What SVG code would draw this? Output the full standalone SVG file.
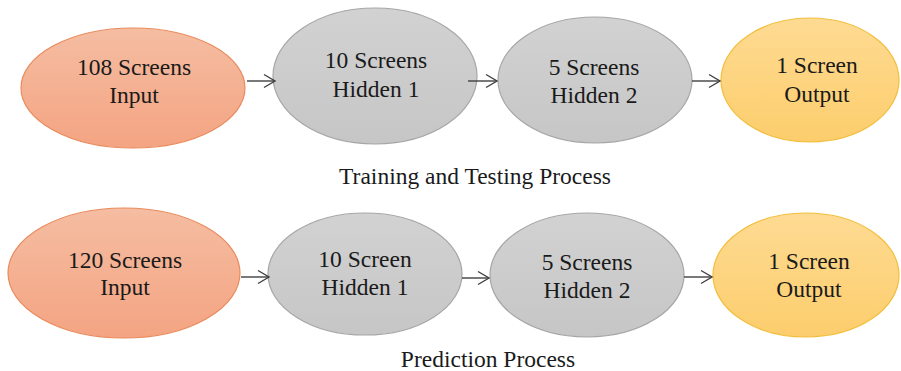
<svg xmlns="http://www.w3.org/2000/svg" width="901" height="371" viewBox="0 0 901 371">
<defs>
<linearGradient id="gIn" x1="0" y1="0" x2="0" y2="1"><stop offset="0" stop-color="#F5BDA2"/><stop offset="1" stop-color="#F4A482"/></linearGradient>
<linearGradient id="gHid" x1="0" y1="0" x2="0" y2="1"><stop offset="0" stop-color="#D2D2D2"/><stop offset="1" stop-color="#C6C6C6"/></linearGradient>
<linearGradient id="gOut" x1="0" y1="0" x2="0" y2="1"><stop offset="0" stop-color="#FEDB93"/><stop offset="1" stop-color="#FCCD6C"/></linearGradient>
<marker id="arr" markerWidth="16" markerHeight="16" refX="12" refY="8" orient="auto" markerUnits="userSpaceOnUse">
<path d="M1,1.5 L12,8 L1,14.5" fill="none" stroke="#404040" stroke-width="1.4"/>
</marker>
</defs>
<style>
.in{fill:url(#gIn);stroke:#E98B5C;stroke-width:1.2}
.hid{fill:url(#gHid);stroke:#A6A6A6;stroke-width:1.2}
.out{fill:url(#gOut);stroke:#F2BE3C;stroke-width:1.2}
text{font-family:"Liberation Serif","Times New Roman",serif;font-size:23.5px;fill:#1A1A1A;text-anchor:middle}
.conn line{stroke:#404040;stroke-width:1.4;marker-end:url(#arr)}
</style>
<rect width="901" height="371" fill="#FFFFFF"/>
<g id="n-train-input"><ellipse class="in" cx="133" cy="88" rx="112" ry="60"/><text x="134" y="75">108 Screens</text><text x="134" y="103">Input</text></g>
<g id="n-train-hidden1"><ellipse class="hid" cx="375" cy="76" rx="102" ry="68"/><text x="376" y="68">10 Screens</text><text x="376" y="97">Hidden 1</text></g>
<g id="n-train-hidden2"><ellipse class="hid" cx="595" cy="80" rx="97" ry="63"/><text x="594" y="75">5 Screens</text><text x="594" y="103">Hidden 2</text></g>
<g id="n-train-output"><ellipse class="out" cx="810" cy="80" rx="89" ry="62"/><text x="817" y="73">1 Screen</text><text x="817" y="102">Output</text></g>

<g id="n-pred-input"><ellipse class="in" cx="124" cy="273" rx="116" ry="65"/><text x="125" y="268">120 Screens</text><text x="125" y="295">Input</text></g>
<g id="n-pred-hidden1"><ellipse class="hid" cx="365" cy="274" rx="97" ry="61"/><text x="365" y="267">10 Screen</text><text x="365" y="295">Hidden 1</text></g>
<g id="n-pred-hidden2"><ellipse class="hid" cx="587" cy="275" rx="97" ry="62"/><text x="587" y="270">5 Screens</text><text x="587" y="298">Hidden 2</text></g>
<g id="n-pred-output"><ellipse class="out" cx="806" cy="275" rx="93" ry="62"/><text x="809" y="269">1 Screen</text><text x="809" y="297">Output</text></g>

<g class="conn" id="connectors">
<line x1="247" y1="81" x2="275" y2="81"/>
<line x1="468" y1="81" x2="497" y2="81"/>
<line x1="692" y1="81" x2="720" y2="81"/>
<line x1="241" y1="277" x2="269" y2="277"/>
<line x1="462" y1="278" x2="489" y2="278"/>
<line x1="684" y1="277" x2="712" y2="277"/>
</g>

<g id="labels">
<text x="475" y="184">Training and Testing Process</text>
<text x="488" y="367">Prediction Process</text>
</g>
</svg>
